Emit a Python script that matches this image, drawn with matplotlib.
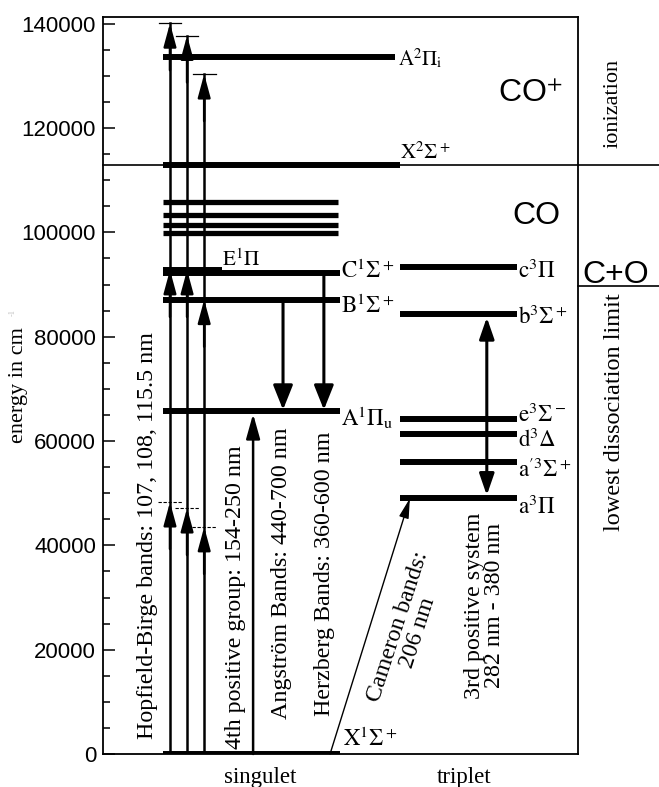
import matplotlib.pyplot as plt

# energies in cm^-1
singlet_labels = [r'$\mathrm{X}^1\Sigma^+$', r'$\mathrm{A}^1\Pi_\mathrm{u}$',
                  r'$\mathrm{B}^1\Sigma^+$', r'$\mathrm{C}^1\Sigma^+$']
singlet_energy = [0, 65700, 87100, 92300]
e_state_label = r'$\mathrm{E}^1\Pi$'
e_state_energy = 92800
rydberg_energy = [99900, 101400, 103300, 105800]
ion_labels = [r'$\mathrm{X}^2\Sigma^+$', r'$\mathrm{A}^2\Pi_\mathrm{i}$']
ion_energy = [113000, 133700]
triplet_labels = [r'$\mathrm{a}^3\Pi$', r'$\mathrm{a}^{\prime 3}\Sigma^+$', r'$\mathrm{d}^3\Delta$',
                  r'$\mathrm{e}^3\Sigma^-$', r'$\mathrm{b}^3\Sigma^+$', r'$\mathrm{c}^3\Pi$']
triplet_energy = [49000, 56000, 61400, 64300, 84300, 93450]
dissociation_limit = 89800

# Hopfield-Birge (three photons each): first photon, intermediate level, final
hb_first = [48300, 47150, 43530]
hb_second = [92800, 92800, 87100]
hb_third = [140100, 137750, 130350]

ytick_values = [0, 20000, 40000, 60000, 80000, 100000, 120000, 140000]
ytick_labels = [str(v) for v in ytick_values]

# label offsets of the baseline from the level (cm^-1)
singlet_dy = [1500, -2900, -2500, -950]
ion_dy = [1100, -1800]
triplet_dy = [-2900, -2900, -2500, -600, -1900, -2100]

plt.rcParams['font.family'] = ['Liberation Serif', 'DejaVu Serif']
plt.rcParams['mathtext.fontset'] = 'stix'

W, H = 659, 787
fig = plt.figure(figsize=(W / 100, H / 100), dpi=100)
ax = fig.add_axes([103 / W, (H - 754) / H, 475 / W, 737 / H])
ax.set_xlim(0, 100)
ax.set_ylim(0, 141300)
ax.set_xticks([])
ax.set_yticks(ytick_values)
ax.set_yticklabels(ytick_labels, fontfamily='Liberation Sans')
ax.set_yticks(range(0, 141000, 5000), minor=True)
ax.tick_params(axis='y', which='major', direction='in', length=8.5, width=1.1,
               labelsize=16, pad=5)
ax.tick_params(axis='y', which='minor', direction='in', length=5, width=1.1)
for s in ax.spines.values():
    s.set_linewidth(1.3)


def level(x0, x1, e, lw=4.3):
    ax.plot([x0, x1], [e, e], color='k', lw=lw, solid_capstyle='butt')


def arrow(x0, y0, x1, y1, L=14, w=4, lw=1.8, style='-|>'):
    ax.annotate('', xy=(x1, y1), xytext=(x0, y0),
                arrowprops=dict(arrowstyle=f'{style},head_length={L},head_width={w}',
                                mutation_scale=1, lw=lw, color='k', fc='k',
                                shrinkA=0, shrinkB=0))


# singlet levels
for e, lab, dy in zip(singlet_energy, singlet_labels, singlet_dy):
    level(12.6, 49.9, e)
    x = 50.5 if e == 0 else 50.1
    ax.text(x, e + dy, lab, fontsize=16.5, ha='left', va='baseline')
level(12.6, 25.1, e_state_energy, lw=4.3)
ax.text(25.1, e_state_energy + 800, e_state_label, fontsize=15, ha='left', va='baseline')
for e in rydberg_energy:
    level(12.6, 49.5, e, lw=3.8)

# CO+ levels
ion_end = [62.5, 61.5]
for e, lab, dy, xe in zip(ion_energy, ion_labels, ion_dy, ion_end):
    level(12.6, xe, e)
    ax.text(62.0 if dy < 0 else 62.5, e + dy, lab, fontsize=15, ha='left', va='baseline')

# triplet levels
for e, lab, dy in zip(triplet_energy, triplet_labels, triplet_dy):
    level(62.5, 87.2, e)
    ax.text(87.4, e + dy, lab, fontsize=16.5, ha='left', va='baseline')

# ionization and dissociation lines running out of the frame
ax.plot([0, 1.171], [ion_energy[0]] * 2, color='k', lw=1.2,
        transform=ax.get_yaxis_transform(), clip_on=False)
ax.plot([1.0, 1.171], [dissociation_limit] * 2, color='k', lw=1.2,
        transform=ax.get_yaxis_transform(), clip_on=False)

# Hopfield-Birge arrows
hb_x = [14.1, 17.7, 21.3]
for x, e1, e2, e3 in zip(hb_x, hb_first, hb_second, hb_third):
    ax.plot([x, x], [0, e3], color='k', lw=1.8)
    for tip in (e1, e2, e3):
        arrow(x, tip - 9000, x, tip, L=14, w=3.8)
    ax.plot([x - 2.4, x + 2.4], [e3, e3], color='k', lw=0.9)
    ax.plot([x - 2.5, x + 2.5], [e1, e1], color='k', lw=0.8, ls=(0, (3, 1.5)))

# 4th positive group, Angstrom, Herzberg
arrow(31.6, 0, 31.6, singlet_energy[1] - 500, L=15, w=4.2, lw=1.8)
arrow(37.9, singlet_energy[2], 37.9, singlet_energy[1] + 300, L=15, w=6, lw=2.2)
arrow(46.5, singlet_energy[3], 46.5, singlet_energy[1] + 300, L=15, w=6, lw=2.2)
# Cameron bands
arrow(47.8, 0, 64.6, triplet_energy[0], L=12, w=3, lw=1.0)
# 3rd positive system
arrow(80.8, triplet_energy[0] + 600, 80.8, triplet_energy[4] - 600, L=13, w=4.5, lw=2.2,
      style='<|-|>')

rot_size = 17.3
ax.text(9.4, 2900, 'Hopfield-Birge bands: 107, 108, 115.5 nm', rotation=90,
        ha='center', va='bottom', fontsize=rot_size)
ax.text(27.8, 1000, '4th positive group: 154-250 nm', rotation=90,
        ha='center', va='bottom', fontsize=rot_size)
ax.text(37.6, 6700, 'Angström Bands: 440-700 nm', rotation=90,
        ha='center', va='bottom', fontsize=rot_size)
ax.text(46.7, 7300, 'Herzberg Bands: 360-600 nm', rotation=90,
        ha='center', va='bottom', fontsize=rot_size)
ax.text(64.2, 23900, 'Cameron bands:\n206 nm', rotation=72, ha='center', va='center',
        multialignment='center', fontsize=rot_size, linespacing=0.95)
ax.text(80.4, 28500, '3rd positive system\n282 nm - 380 nm', rotation=90, ha='center',
        va='center', multialignment='center', fontsize=rot_size, linespacing=0.95)

# texts outside the frame
fig.text(19 / W, (H - 385) / H, 'energy in cm', rotation=90, ha='center', va='center',
         fontsize=16)
fig.text(13 / W, (H - 313) / H, '-1', rotation=90, ha='center', va='center',
         fontsize=6, color='0.75')
fig.text(260 / W, (H - 783) / H, 'singulet', ha='center', va='baseline', fontsize=16.5)
fig.text(464 / W, (H - 783) / H, 'triplet', ha='center', va='baseline', fontsize=16.5)
fig.text(613 / W, (H - 103) / H, 'ionization', rotation=90, ha='center', va='center',
         fontsize=16)
fig.text(614 / W, (H - 412) / H, 'lowest dissociation limit', rotation=90, ha='center',
         va='center', fontsize=17.5)
fig.text(498 / W, (H - 102) / H, r'CO$^\mathsf{+}$', family='Liberation Sans', fontsize=23,
         va='baseline')
fig.text(512 / W, (H - 224) / H, 'CO', family='Liberation Sans', fontsize=23,
         va='baseline')
fig.text(582 / W, (H - 283) / H, 'C+O', family='Liberation Sans', fontsize=23,
         va='baseline')

fig.savefig('out.png', dpi=100)
